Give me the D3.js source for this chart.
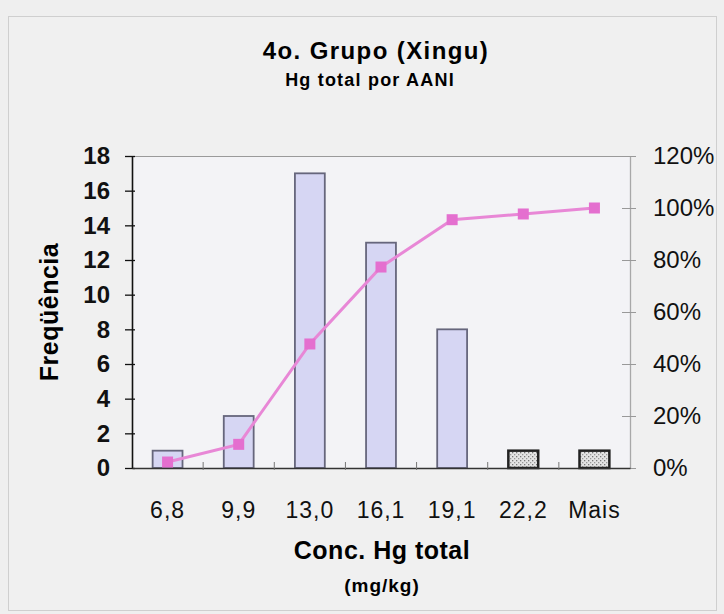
<!DOCTYPE html>
<html>
<head>
<meta charset="utf-8">
<script src="https://cdn.jsdelivr.net/npm/d3@7"></script>
<style>
  body { margin: 0; background: #efefef; }
  svg { display: block; font-family: "Liberation Sans", Arial, sans-serif; }
  .tick text { fill: #111; }
</style>
</head>
<body>
<svg id="chart" width="724" height="614"></svg>
<script>
const categories = ['6,8', '9,9', '13,0', '16,1', '19,1', '22,2', 'Mais'];
const frequency = [1, 3, 17, 13, 8, 1, 1];
const cumulative = [2.3, 9.1, 47.7, 77.3, 95.5, 97.7, 100];
const speckled = ['22,2', 'Mais'];
const countTicks = [0, 2, 4, 6, 8, 10, 12, 14, 16, 18];
const percentTicks = [0, 20, 40, 60, 80, 100, 120];

const [plotLeft, plotRight, plotTop, plotBottom] = [132, 630, 156, 468];

const svg = d3.select('#chart');

const defs = svg.append('defs');
const pat = defs.append('pattern')
    .attr('id', 'speckle')
    .attr('patternUnits', 'userSpaceOnUse')
    .attr('width', 4).attr('height', 4);
pat.append('rect').attr('width', 4).attr('height', 4).attr('fill', '#e4e4e4');
pat.append('rect').attr('x', 0).attr('y', 0).attr('width', 1.3).attr('height', 1.3).attr('fill', '#777');
pat.append('rect').attr('x', 2).attr('y', 2).attr('width', 1.3).attr('height', 1.3).attr('fill', '#999');

// outer frame
svg.append('rect')
    .attr('x', 8.5).attr('y', 16.5)
    .attr('width', 708).attr('height', 594)
    .attr('fill', '#f0f0f0')
    .attr('stroke', '#cfcfcf');

const x = d3.scaleBand()
    .domain(categories)
    .range([plotLeft, plotRight])
    .paddingInner(0.58)
    .paddingOuter(0.29);

const y = d3.scaleLinear().domain([0, 18]).range([plotBottom, plotTop]);
const yPct = d3.scaleLinear().domain([0, 120]).range([plotBottom, plotTop]);

// plot area
svg.append('rect')
    .attr('x', plotLeft).attr('y', plotTop)
    .attr('width', plotRight - plotLeft).attr('height', plotBottom - plotTop)
    .attr('fill', '#f3f3f6');

svg.append('line')
    .attr('x1', plotLeft).attr('x2', plotRight)
    .attr('y1', plotTop + 0.5).attr('y2', plotTop + 0.5)
    .attr('stroke', '#9a9a9a');

// bars
svg.append('g')
  .selectAll('rect')
  .data(categories)
  .join('rect')
    .attr('x', d => x(d))
    .attr('y', (d, i) => y(frequency[i]))
    .attr('width', x.bandwidth())
    .attr('height', (d, i) => plotBottom - y(frequency[i]))
    .attr('fill', d => speckled.includes(d) ? 'url(#speckle)' : '#d6d6f3')
    .attr('stroke', d => speckled.includes(d) ? '#222' : '#66667c')
    .attr('stroke-width', d => speckled.includes(d) ? 2.5 : 1.8);

// left axis
const yAxis = svg.append('g')
    .attr('transform', `translate(${plotLeft},0)`)
    .call(d3.axisLeft(y).tickValues(countTicks).tickSize(0).tickPadding(22));
yAxis.select('.domain').attr('stroke', '#111').attr('stroke-width', 1.6);
yAxis.selectAll('.tick text')
    .attr('font-size', 24).attr('font-weight', 'bold').attr('fill', '#111');
yAxis.selectAll('.tick').append('line')
    .attr('x1', -7).attr('x2', 3)
    .attr('stroke', '#111').attr('stroke-width', 1.3);

// right axis
const yAxisR = svg.append('g')
    .attr('transform', `translate(${plotRight},0)`)
    .call(d3.axisRight(yPct).tickValues(percentTicks)
      .tickFormat(d => d + '%').tickSize(0).tickPadding(23));
yAxisR.select('.domain').attr('stroke', '#a8a8a8').attr('stroke-width', 1.3);
yAxisR.selectAll('.tick text').attr('font-size', 24).attr('fill', '#111');
yAxisR.selectAll('.tick').append('line')
    .attr('x1', -8).attr('x2', 6)
    .attr('stroke', '#999');

// bottom axis
const xAxis = svg.append('g')
    .attr('transform', `translate(0,${plotBottom})`)
    .call(d3.axisBottom(x).tickSize(0).tickPadding(34));
xAxis.select('.domain').attr('stroke', '#333').attr('stroke-width', 1.6);
xAxis.selectAll('.tick text')
    .attr('font-size', 23).attr('letter-spacing', 1).attr('fill', '#111');
svg.append('g')
  .selectAll('line')
  .data(categories.slice(1))
  .join('line')
    .attr('x1', d => x(d) - x.step() * x.paddingInner() / 2)
    .attr('x2', d => x(d) - x.step() * x.paddingInner() / 2)
    .attr('y1', plotBottom - 6).attr('y2', plotBottom + 2)
    .attr('stroke', '#777');

// cumulative line
const line = d3.line()
    .x((d, i) => x(categories[i]) + x.bandwidth() / 2)
    .y(d => yPct(d));

svg.append('path')
    .datum(cumulative)
    .attr('d', line)
    .attr('fill', 'none')
    .attr('stroke', '#e887d6')
    .attr('stroke-width', 3);

svg.append('g')
  .selectAll('rect')
  .data(cumulative)
  .join('rect')
    .attr('x', (d, i) => x(categories[i]) + x.bandwidth() / 2 - 5.5)
    .attr('y', d => yPct(d) - 5.5)
    .attr('width', 11).attr('height', 11)
    .attr('fill', '#e46fcf');

// titles
svg.append('text')
    .attr('x', 376).attr('y', 59)
    .attr('text-anchor', 'middle')
    .attr('font-size', 24).attr('font-weight', 'bold')
    .attr('letter-spacing', 1.4)
    .text('4o. Grupo (Xingu)');

svg.append('text')
    .attr('x', 370).attr('y', 86)
    .attr('text-anchor', 'middle')
    .attr('font-size', 18).attr('font-weight', 'bold')
    .attr('letter-spacing', 1.2)
    .text('Hg total por AANI');

svg.append('text')
    .attr('transform', 'translate(58,312) rotate(-90)')
    .attr('text-anchor', 'middle')
    .attr('font-size', 25).attr('font-weight', 'bold')
    .attr('letter-spacing', 0.5)
    .text('Freqüência');

svg.append('text')
    .attr('x', 382).attr('y', 559)
    .attr('text-anchor', 'middle')
    .attr('font-size', 25).attr('font-weight', 'bold')
    .attr('letter-spacing', 0.5)
    .text('Conc. Hg total');

svg.append('text')
    .attr('x', 382).attr('y', 592)
    .attr('text-anchor', 'middle')
    .attr('font-size', 19).attr('font-weight', 'bold')
    .attr('letter-spacing', 1)
    .text('(mg/kg)');
</script>
</body>
</html>
